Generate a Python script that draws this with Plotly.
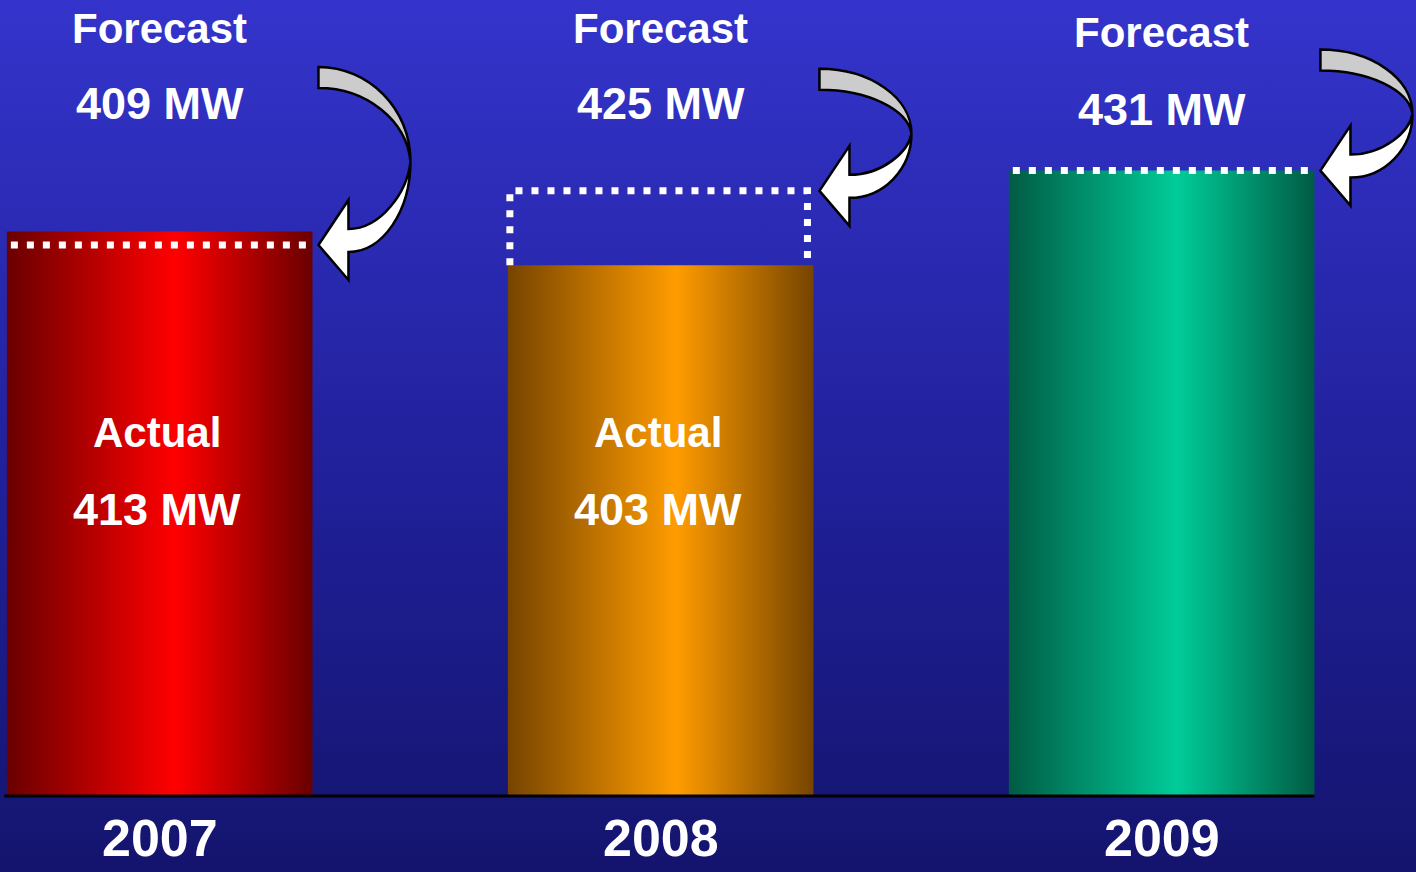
import plotly.graph_objects as go

# ---------------- data ----------------
years = ["2007", "2008", "2009"]
forecast_mw = [409, 425, 431]
actual_mw = [413, 403, None]
bar_colors = [
    ["#6a0000", "#ff0000", "#6a0000"],
    ["#764400", "#ff9c00", "#764400"],
    ["#005c44", "#00cc99", "#005c44"],
]

# ---------------- layout constants ----------------
W_PX, H_PX = 1416, 872
Y_MIN, Y_MAX = 223.55, 481.45
X_MIN, X_MAX = -0.3187, 2.5077
BASE = 246.0
HALF = 0.305
FONT = "Liberation Sans"


def px_x(x):
    return (x - X_MIN) / (X_MAX - X_MIN) * W_PX


def px_y(v):
    return (Y_MAX - v) / (Y_MAX - Y_MIN) * H_PX


def pp(px, py):
    return f"{px / W_PX:.5f},{1 - py / H_PX:.5f}"


fig = go.Figure()

# background gradient
fig.add_trace(go.Scatter(
    x=[X_MIN, X_MAX, X_MAX, X_MIN, X_MIN],
    y=[Y_MIN, Y_MIN, Y_MAX, Y_MAX, Y_MIN],
    mode="lines", line=dict(width=0), fill="toself",
    fillgradient=dict(type="vertical",
                      colorscale=[[0, "#14146e"], [0.45, "#20209a"], [1, "#3434cc"]]),
    hoverinfo="skip", showlegend=False,
))

# bars
for i, y in enumerate(years):
    val = actual_mw[i] if actual_mw[i] is not None else forecast_mw[i]
    c = bar_colors[i]
    fig.add_trace(go.Scatter(
        x=[i - HALF, i + HALF, i + HALF, i - HALF, i - HALF],
        y=[BASE, BASE, val, val, BASE],
        mode="lines", line=dict(width=0), fill="toself",
        fillgradient=dict(type="horizontal",
                          colorscale=[[0, c[0]], [0.55, c[1]], [1, c[2]]]),
        hoverinfo="skip", showlegend=False,
    ))

# forecast dotted markers
dot = dict(color="white", width=7, dash="7px,9px")
for i, y in enumerate(years):
    f = forecast_mw[i]
    a = actual_mw[i]
    if a is not None and f > a:
        xs = [i - HALF + 0.004, i - HALF + 0.004, i + HALF - 0.012, i + HALF - 0.012]
        ys = [a, f, f, a]
    else:
        xs = [i - HALF + 0.008, i + HALF - 0.008]
        ys = [f, f]
    fig.add_trace(go.Scatter(x=xs, y=ys, mode="lines", line=dot,
                             hoverinfo="skip", showlegend=False))

shapes = []
# baseline
shapes.append(dict(type="line", xref="x", yref="y",
                   x0=0 - HALF - 0.005, x1=2 + HALF, y0=BASE, y1=BASE,
                   line=dict(color="black", width=3), layer="above"))

# curved arrows
arrow_h = [178, 122, 121]
K = 0.5523
for i in range(len(years)):
    tx = px_x(i + HALF) + 6
    ty = px_y(forecast_mw[i])
    H = arrow_h[i]
    W = 92
    T = 21
    yt = ty - H
    xr = tx + W
    ym = yt + 0.53 * H
    bdx = 30
    gray = (f"M {pp(tx, yt)} "
            f"C {pp(tx + K * W, yt)} {pp(xr, ym - K * (ym - yt))} {pp(xr, ym)} "
            f"C {pp(xr - 4, ym - K * (ym - yt - T))} {pp(tx + K * (W - 4), yt + T)} {pp(tx, yt + T)} Z")
    lo = ty + 7
    up = ty - 16
    bx = tx + bdx
    white = (f"M {pp(xr, ym)} "
             f"C {pp(xr, ym + K * (lo - ym))} {pp(bx + K * (xr - bx), lo)} {pp(bx, lo)} "
             f"L {pp(bx, ty + 35)} L {pp(tx, ty)} L {pp(bx, ty - 45)} L {pp(bx, up)} "
             f"C {pp(bx + K * (xr - 3 - bx), up)} {pp(xr - 3, up - K * (up - ym))} {pp(xr, ym)} Z")
    shapes.append(dict(type="path", path=white, xref="paper", yref="paper",
                       fillcolor="white", line=dict(color="black", width=2.5), layer="above"))
    shapes.append(dict(type="path", path=gray, xref="paper", yref="paper",
                       fillcolor="#cccccc", line=dict(color="black", width=2.5), layer="above"))

# annotations
ann = []
fc_y = [(28, 104), (28, 104), (33, 110)]
for i, y in enumerate(years):
    ann.append(dict(x=i, xref="x", y=1 - fc_y[i][0] / H_PX, yref="paper",
                    text="<b>Forecast</b>", showarrow=False, yanchor="middle",
                    font=dict(family=FONT, size=42, color="white")))
    ann.append(dict(x=i, xref="x", y=1 - fc_y[i][1] / H_PX, yref="paper",
                    text=f"<b>{forecast_mw[i]} MW</b>", showarrow=False, yanchor="middle",
                    font=dict(family=FONT, size=45, color="white")))
    if actual_mw[i] is not None:
        ann.append(dict(x=i - 0.005, xref="x", y=1 - 432 / H_PX, yref="paper",
                        text="<b>Actual</b>", showarrow=False, yanchor="middle",
                        font=dict(family=FONT, size=42, color="white")))
        ann.append(dict(x=i - 0.005, xref="x", y=1 - 509 / H_PX, yref="paper",
                        text=f"<b>{actual_mw[i]} MW</b>", showarrow=False, yanchor="middle",
                        font=dict(family=FONT, size=45, color="white")))
    ann.append(dict(x=i, xref="x", y=1 - 838 / H_PX, yref="paper",
                    text=f"<b>{y}</b>", showarrow=False, yanchor="middle",
                    font=dict(family=FONT, size=52, color="white")))

fig.update_layout(
    width=W_PX, height=H_PX,
    margin=dict(l=0, r=0, t=0, b=0),
    paper_bgcolor="#22229e", plot_bgcolor="#22229e",
    xaxis=dict(range=[X_MIN, X_MAX], visible=False, fixedrange=True),
    yaxis=dict(range=[Y_MIN, Y_MAX], visible=False, fixedrange=True),
    shapes=shapes, annotations=ann, showlegend=False,
)

fig.write_html("out.html", config={"displayModeBar": False})
